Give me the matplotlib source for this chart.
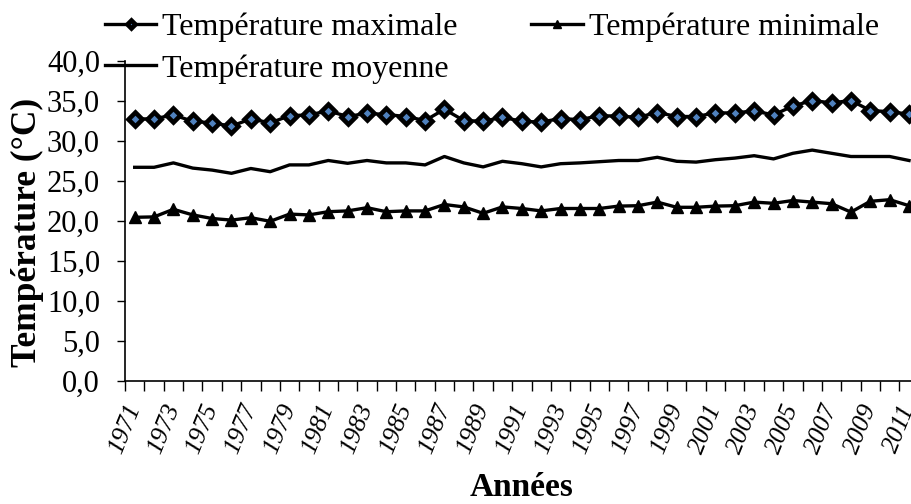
import matplotlib
matplotlib.use("Agg")
import matplotlib.pyplot as plt
from matplotlib.ticker import FixedLocator, FuncFormatter

years = list(range(1971, 2012))

t_max = [32.7, 32.7, 33.2, 32.4, 32.2, 31.8, 32.7, 32.2, 33.1, 33.2,
         33.7, 33.0, 33.4, 33.25, 33.0, 32.5, 33.9, 32.5, 32.4, 32.9,
         32.4, 32.3, 32.75, 32.6, 33.1, 33.05, 32.9, 33.5, 33.0, 33.0,
         33.45, 33.45, 33.7, 33.2, 34.3, 35.0, 34.7, 35.0, 33.75, 33.6,
         33.3]

t_min = [20.4, 20.45, 21.4, 20.7, 20.25, 20.05, 20.35, 19.9, 20.8, 20.7,
         21.1, 21.2, 21.6, 21.1, 21.2, 21.2, 22.0, 21.7, 20.9, 21.7,
         21.5, 21.2, 21.5, 21.5, 21.5, 21.8, 21.85, 22.3, 21.65, 21.65,
         21.8, 21.85, 22.3, 22.15, 22.5, 22.3, 22.1, 21.05, 22.4, 22.6,
         21.85]

t_moy = [26.65, 26.65, 27.2, 26.55, 26.3, 25.9, 26.5, 26.1, 26.95, 26.95,
         27.5, 27.15, 27.5, 27.2, 27.2, 26.95, 28.0, 27.2, 26.7, 27.4,
         27.1, 26.7, 27.1, 27.2, 27.35, 27.5, 27.5, 27.9, 27.4, 27.3,
         27.6, 27.8, 28.1, 27.7, 28.4, 28.8, 28.4, 28.0, 28.0, 28.0,
         27.5]

plt.rcParams["font.family"] = ["Liberation Serif", "DejaVu Serif"]

fig = plt.figure(figsize=(9.12, 5.04), dpi=100)
ax = fig.add_axes([125 / 912, 1 - 380.5 / 504, 793.7 / 912, 320 / 504])

x = list(range(len(years)))
lw = 2.4
h_max, = ax.plot(x, t_max, color="black", lw=lw, marker="D", markersize=7.5,
                 markerfacecolor="#4f81bd", markeredgecolor="black",
                 markeredgewidth=3.3, label="Température maximale")
h_min, = ax.plot(x, t_min, color="black", lw=lw, marker="^", markersize=8.5,
                 markerfacecolor="black", markeredgecolor="black",
                 label="Température minimale")
h_moy, = ax.plot(x, t_moy, color="black", lw=lw, label="Température moyenne")

ax.set_xlim(-0.5, len(years) - 0.5)
ax.set_ylim(0, 40)

# tick marks on category boundaries, labels at centres (every other year)
ax.xaxis.set_major_locator(FixedLocator([i - 0.5 for i in range(len(years) + 1)]))
ax.xaxis.set_major_formatter(FuncFormatter(lambda v, p: ""))
ax.xaxis.set_minor_locator(FixedLocator(x[::2]))
ax.xaxis.set_minor_formatter(FuncFormatter(lambda v, p: str(years[int(round(v))])))
ax.tick_params(axis="x", which="major", direction="out", length=7, width=1)
ax.tick_params(axis="x", which="minor", length=0, pad=18)
for lab in ax.xaxis.get_minorticklabels():
    lab.set_rotation(68)
    lab.set_ha("right")
    lab.set_va("center")
    lab.set_rotation_mode("anchor")
    lab.set_fontstyle("italic")
    lab.set_fontsize(18.5)

ax.set_yticks(range(0, 41, 5))
ax.yaxis.set_major_formatter(FuncFormatter(lambda v, p: f"{v:.1f}".replace(".", ",")))
ax.tick_params(axis="y", direction="out", length=6, width=1, labelsize=22, pad=12)

for side in ["top", "right"]:
    ax.spines[side].set_visible(False)
for side in ["left", "bottom"]:
    ax.spines[side].set_linewidth(1.2)

fig.text(27 / 912, 1 - 232 / 504, "Température (°C)", fontsize=25.5, fontweight="bold",
         rotation=90, ha="center", va="center")
fig.text(522 / 912, 1 - 487 / 504, "Années", fontsize=24, fontweight="bold",
         ha="center", va="center")

fig.legend(handles=[h_max, h_moy, h_min], ncol=2, loc="upper left",
           bbox_to_anchor=(105 / 912, 1 - 13 / 504), frameon=False,
           fontsize=23, borderpad=0, borderaxespad=0, handlelength=1.6,
           handletextpad=0.2, labelspacing=0.36, columnspacing=2.3,
           markerscale=0.6)

fig.savefig("out.png", dpi=100)
